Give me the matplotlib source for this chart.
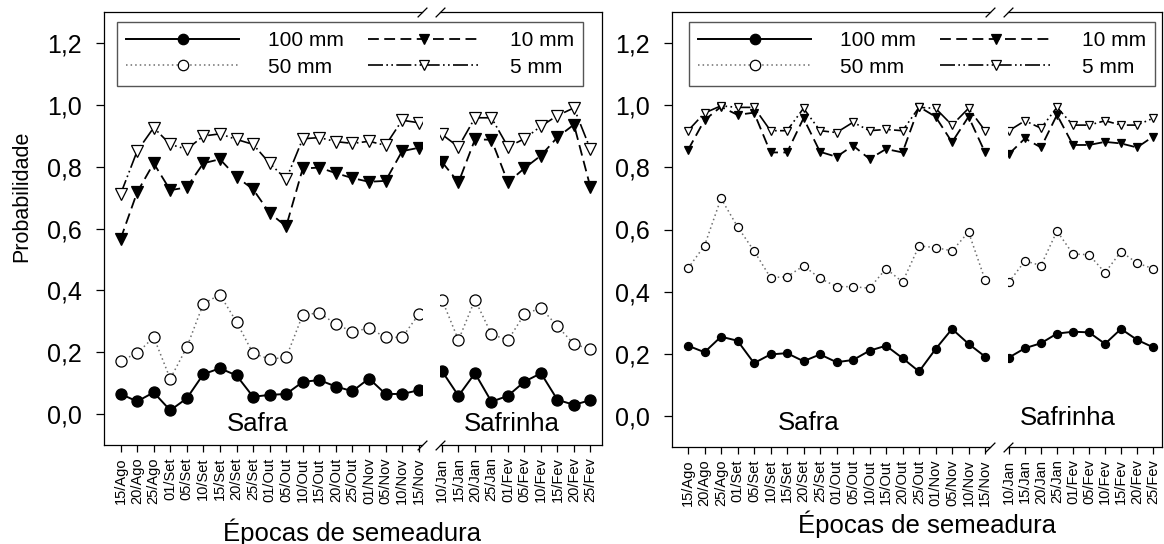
import matplotlib
matplotlib.use('Agg')
import matplotlib.pyplot as plt
from matplotlib.lines import Line2D

plt.rcParams['font.family'] = ['Liberation Sans', 'DejaVu Sans']

# ---------------- data ----------------
safra_labels = ['15/Ago', '20/Ago', '25/Ago', '01/Set', '05/Set', '10/Set', '15/Set',
                '20/Set', '25/Set', '01/Out', '05/Out', '10/Out', '15/Out', '20/Out',
                '25/Out', '01/Nov', '05/Nov', '10/Nov', '15/Nov']
safrinha_labels = ['10/Jan', '15/Jan', '20/Jan', '25/Jan', '01/Fev', '05/Fev',
                   '10/Fev', '15/Fev', '20/Fev', '25/Fev']
series_names = ['100 mm', '50 mm', '10 mm', '5 mm']
ytick_values = [0.0, 0.2, 0.4, 0.6, 0.8, 1.0, 1.2]
ytick_labels = ['0,0', '0,2', '0,4', '0,6', '0,8', '1,0', '1,2']

# Left panel
left_safra_100 = [0.065, 0.041, 0.070, 0.012, 0.051, 0.129, 0.148, 0.125, 0.056, 0.062,
                  0.065, 0.104, 0.110, 0.089, 0.074, 0.115, 0.065, 0.065, 0.077]
left_safra_50 = [0.173, 0.196, 0.249, 0.114, 0.216, 0.357, 0.386, 0.298, 0.196, 0.178,
                 0.183, 0.321, 0.327, 0.291, 0.266, 0.278, 0.248, 0.248, 0.322]
left_safra_10 = [0.566, 0.717, 0.811, 0.724, 0.733, 0.811, 0.824, 0.767, 0.727, 0.650,
                 0.607, 0.794, 0.797, 0.779, 0.763, 0.751, 0.754, 0.850, 0.861]
left_safra_5 = [0.711, 0.850, 0.926, 0.872, 0.856, 0.899, 0.906, 0.888, 0.872, 0.811,
                0.759, 0.890, 0.894, 0.881, 0.875, 0.882, 0.869, 0.950, 0.942]
left_safrinha_100 = [0.139, 0.059, 0.132, 0.040, 0.059, 0.105, 0.132, 0.046, 0.030, 0.045]
left_safrinha_50 = [0.370, 0.239, 0.370, 0.258, 0.239, 0.323, 0.343, 0.284, 0.226, 0.210]
left_safrinha_10 = [0.815, 0.749, 0.888, 0.887, 0.749, 0.795, 0.836, 0.895, 0.936, 0.733]
left_safrinha_5 = [0.904, 0.864, 0.958, 0.958, 0.864, 0.890, 0.931, 0.965, 0.990, 0.856]

# Right panel
right_safra_100 = [0.226, 0.205, 0.255, 0.242, 0.170, 0.198, 0.202, 0.176, 0.198, 0.173,
                   0.180, 0.210, 0.226, 0.186, 0.143, 0.215, 0.280, 0.232, 0.191]
right_safra_50 = [0.475, 0.548, 0.700, 0.609, 0.531, 0.445, 0.448, 0.483, 0.443, 0.416,
                  0.416, 0.411, 0.474, 0.431, 0.547, 0.542, 0.531, 0.592, 0.438]
right_safra_10 = [0.856, 0.952, 0.995, 0.969, 0.976, 0.848, 0.848, 0.958, 0.850, 0.834,
                  0.870, 0.827, 0.859, 0.848, 0.995, 0.963, 0.881, 0.963, 0.848]
right_safra_5 = [0.918, 0.975, 0.998, 0.993, 0.993, 0.918, 0.918, 0.990, 0.918, 0.912,
                 0.945, 0.918, 0.922, 0.918, 0.993, 0.990, 0.936, 0.990, 0.918]
right_safrinha_100 = [0.188, 0.218, 0.234, 0.265, 0.271, 0.269, 0.232, 0.280, 0.245, 0.221]
right_safrinha_50 = [0.431, 0.499, 0.484, 0.595, 0.521, 0.519, 0.461, 0.529, 0.492, 0.474]
right_safrinha_10 = [0.843, 0.893, 0.864, 0.969, 0.872, 0.872, 0.882, 0.877, 0.864, 0.899]
right_safrinha_5 = [0.918, 0.950, 0.926, 0.993, 0.936, 0.936, 0.950, 0.936, 0.936, 0.958]

# ---------------- styles ----------------
W, H = 1164, 544
styles = [
    dict(color='black', lw=1.4, ls='-', marker='o', mfc='black', mec='black'),
    dict(color='#6e6e6e', lw=1.1, ls=(0, (1, 2)), marker='o', mfc='white', mec='black'),
    dict(color='black', lw=1.3, ls=(0, (6, 3)), marker='v', mfc='black', mec='black'),
    dict(color='black', lw=1.2, ls=(0, (9, 2, 1, 2, 1, 2)), marker='v', mfc='white', mec='black'),
]

fig = plt.figure(figsize=(W / 100, H / 100), dpi=100)


def px_axes(x0, x1, y0, y1):
    return fig.add_axes([x0 / W, 1 - y1 / H, (x1 - x0) / W, (y1 - y0) / H])


def style_axis(ax, labels, part, xlim):
    ax.set_xlim(*xlim)
    ax.set_ylim(-0.1, 1.3)
    ax.set_xticks(range(len(labels)))
    ax.set_xticklabels(labels, rotation=90, fontsize=10.5)
    ax.tick_params(axis='x', direction='out', length=5, width=0.9, pad=4)
    for s in ax.spines.values():
        s.set_linewidth(0.9)
    if part == 'safra':
        ax.spines['right'].set_visible(False)
        ax.set_yticks(ytick_values)
        ax.set_yticklabels(ytick_labels, fontsize=18)
        ax.tick_params(axis='y', direction='out', length=6, width=0.9, pad=10)
        xs = [1, 1]
    else:
        ax.spines['left'].set_visible(False)
        ax.tick_params(axis='y', left=False, labelleft=False)
        xs = [0, 0]
    ax.plot(xs, [0, 1], transform=ax.transAxes, ls='none',
            marker=[(-1, -1), (1, 1)], markersize=7, mec='black', mew=0.9,
            clip_on=False, zorder=10)


def draw(ax, series, ms):
    for vals, st in zip(series, styles):
        ax.plot(range(len(vals)), vals, ms=ms, mew=0.9, **st)


panels = [
    dict(safra=(104, 422), safrinha=(440, 602), ybot=445,
         xl_safra=(-1.0, 18.2), xl_safrinha=(-0.12, 9.7), ms=8.0,
         data_safra=[left_safra_100, left_safra_50, left_safra_10, left_safra_5],
         data_safrinha=[left_safrinha_100, left_safrinha_50, left_safrinha_10, left_safrinha_5],
         txt_safra=(8.3, -0.032), txt_safrinha=(4.2, -0.032),
         legend=(117, 583), xlabel=(352, 541)),
    dict(safra=(672, 990), safrinha=(1008, 1162), ybot=447,
         xl_safra=(-0.97, 18.3), xl_safrinha=(-0.06, 9.56), ms=5.8,
         data_safra=[right_safra_100, right_safra_50, right_safra_10, right_safra_5],
         data_safrinha=[right_safrinha_100, right_safrinha_50, right_safrinha_10, right_safrinha_5],
         txt_safra=(7.3, -0.023), txt_safrinha=(3.7, -0.006),
         legend=(689, 1155), xlabel=(927, 533)),
]

handles = [Line2D([], [], ms=7.5, mew=0.9, **st) for st in styles]

for p in panels:
    ax1 = px_axes(p['safra'][0], p['safra'][1], 12, p['ybot'])
    ax2 = px_axes(p['safrinha'][0], p['safrinha'][1], 12, p['ybot'])
    style_axis(ax1, safra_labels, 'safra', p['xl_safra'])
    style_axis(ax2, safrinha_labels, 'safrinha', p['xl_safrinha'])
    draw(ax1, p['data_safra'], p['ms'])
    draw(ax2, p['data_safrinha'], p['ms'])
    ax1.text(*p['txt_safra'], 'Safra', ha='center', va='center', fontsize=18.5)
    ax2.text(*p['txt_safrinha'], 'Safrinha', ha='center', va='center', fontsize=18.5)
    lx0, lx1 = p['legend']
    leg = fig.legend(handles, series_names, loc='upper left',
                     bbox_to_anchor=(lx0 / W, 1 - 92 / H, (lx1 - lx0) / W, 70 / H),
                     mode='expand', ncol=2, borderaxespad=0, fontsize=15,
                     handlelength=5.4, handletextpad=1.4, numpoints=1,
                     labelspacing=0.35, borderpad=0.45, fancybox=False,
                     framealpha=1, edgecolor='#555555')
    leg.get_frame().set_linewidth(1.0)
    fig.text(p['xlabel'][0] / W, 1 - p['xlabel'][1] / H, 'Épocas de semeadura',
             ha='center', va='baseline', fontsize=18.5)

fig.text(22 / W, 1 - 196 / H, 'Probabilidade', rotation=90, ha='center', va='center',
         fontsize=15.5)

fig.savefig('out.png', dpi=100)
